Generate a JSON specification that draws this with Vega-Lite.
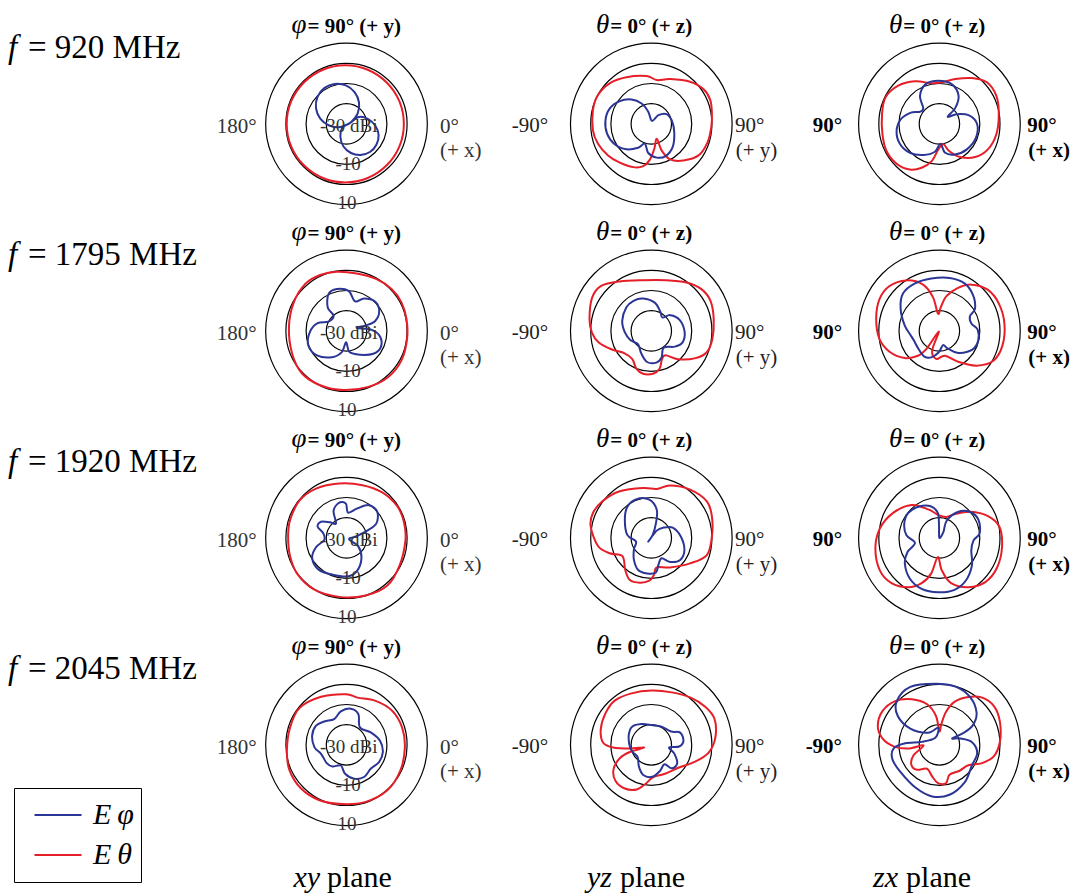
{
"$schema":"https://vega.github.io/schema/vega-lite/v6.json",
"background":"white",
"padding":0,
"autosize":{"type":"pad"},
"config":{"view":{"stroke":null},"font":"Liberation Serif"},
"data":{"values":[
{"kind":"panel","plane":"xy","freq":920,"sym":"φ","head":"= 90° (+ y)","west":"180°","east":"0°","axis":"(+ x)","g0":"-30 dBi","g1":"-10","g2":"10","flab":"= 920 MHz"},
{"kind":"panel","plane":"xy","freq":1795,"sym":"φ","head":"= 90° (+ y)","west":"180°","east":"0°","axis":"(+ x)","g0":"-30 dBi","g1":"-10","g2":"10","flab":"= 1795 MHz"},
{"kind":"panel","plane":"xy","freq":1920,"sym":"φ","head":"= 90° (+ y)","west":"180°","east":"0°","axis":"(+ x)","g0":"-30 dBi","g1":"-10","g2":"10","flab":"= 1920 MHz"},
{"kind":"panel","plane":"xy","freq":2045,"sym":"φ","head":"= 90° (+ y)","west":"180°","east":"0°","axis":"(+ x)","g0":"-30 dBi","g1":"-10","g2":"10","flab":"= 2045 MHz"},
{"kind":"panel","plane":"yz","freq":920,"sym":"θ","head":"= 0° (+ z)","west":"-90°","east":"90°","axis":"(+ y)"},
{"kind":"panel","plane":"yz","freq":1795,"sym":"θ","head":"= 0° (+ z)","west":"-90°","east":"90°","axis":"(+ y)"},
{"kind":"panel","plane":"yz","freq":1920,"sym":"θ","head":"= 0° (+ z)","west":"-90°","east":"90°","axis":"(+ y)"},
{"kind":"panel","plane":"yz","freq":2045,"sym":"θ","head":"= 0° (+ z)","west":"-90°","east":"90°","axis":"(+ y)"},
{"kind":"panel","plane":"zx","freq":920,"sym":"θ","head":"= 0° (+ z)","west":"90°","east":"90°","axis":"(+ x)"},
{"kind":"panel","plane":"zx","freq":1795,"sym":"θ","head":"= 0° (+ z)","west":"90°","east":"90°","axis":"(+ x)"},
{"kind":"panel","plane":"zx","freq":1920,"sym":"θ","head":"= 0° (+ z)","west":"90°","east":"90°","axis":"(+ x)"},
{"kind":"panel","plane":"zx","freq":2045,"sym":"θ","head":"= 0° (+ z)","west":"-90°","east":"90°","axis":"(+ x)"},
{"kind":"caption","plane":"xy","freq":2045,"a":"xy","b":"plane"},
{"kind":"caption","plane":"yz","freq":2045,"a":"yz","b":"plane"},
{"kind":"caption","plane":"zx","freq":2045,"a":"zx","b":"plane"},
{"kind":"ring","plane":"xy","freq":920,"dbi":-20},{"kind":"ring","plane":"xy","freq":920,"dbi":-10},{"kind":"ring","plane":"xy","freq":920,"dbi":0},{"kind":"ring","plane":"xy","freq":920,"dbi":10},
{"kind":"ring","plane":"xy","freq":1795,"dbi":-20},{"kind":"ring","plane":"xy","freq":1795,"dbi":-10},{"kind":"ring","plane":"xy","freq":1795,"dbi":0},{"kind":"ring","plane":"xy","freq":1795,"dbi":10},
{"kind":"ring","plane":"xy","freq":1920,"dbi":-20},{"kind":"ring","plane":"xy","freq":1920,"dbi":-10},{"kind":"ring","plane":"xy","freq":1920,"dbi":0},{"kind":"ring","plane":"xy","freq":1920,"dbi":10},
{"kind":"ring","plane":"xy","freq":2045,"dbi":-20},{"kind":"ring","plane":"xy","freq":2045,"dbi":-10},{"kind":"ring","plane":"xy","freq":2045,"dbi":0},{"kind":"ring","plane":"xy","freq":2045,"dbi":10},
{"kind":"ring","plane":"yz","freq":920,"dbi":-20},{"kind":"ring","plane":"yz","freq":920,"dbi":-10},{"kind":"ring","plane":"yz","freq":920,"dbi":0},{"kind":"ring","plane":"yz","freq":920,"dbi":10},
{"kind":"ring","plane":"yz","freq":1795,"dbi":-20},{"kind":"ring","plane":"yz","freq":1795,"dbi":-10},{"kind":"ring","plane":"yz","freq":1795,"dbi":0},{"kind":"ring","plane":"yz","freq":1795,"dbi":10},
{"kind":"ring","plane":"yz","freq":1920,"dbi":-20},{"kind":"ring","plane":"yz","freq":1920,"dbi":-10},{"kind":"ring","plane":"yz","freq":1920,"dbi":0},{"kind":"ring","plane":"yz","freq":1920,"dbi":10},
{"kind":"ring","plane":"yz","freq":2045,"dbi":-20},{"kind":"ring","plane":"yz","freq":2045,"dbi":-10},{"kind":"ring","plane":"yz","freq":2045,"dbi":0},{"kind":"ring","plane":"yz","freq":2045,"dbi":10},
{"kind":"ring","plane":"zx","freq":920,"dbi":-20},{"kind":"ring","plane":"zx","freq":920,"dbi":-10},{"kind":"ring","plane":"zx","freq":920,"dbi":0},{"kind":"ring","plane":"zx","freq":920,"dbi":10},
{"kind":"ring","plane":"zx","freq":1795,"dbi":-20},{"kind":"ring","plane":"zx","freq":1795,"dbi":-10},{"kind":"ring","plane":"zx","freq":1795,"dbi":0},{"kind":"ring","plane":"zx","freq":1795,"dbi":10},
{"kind":"ring","plane":"zx","freq":1920,"dbi":-20},{"kind":"ring","plane":"zx","freq":1920,"dbi":-10},{"kind":"ring","plane":"zx","freq":1920,"dbi":0},{"kind":"ring","plane":"zx","freq":1920,"dbi":10},
{"kind":"ring","plane":"zx","freq":2045,"dbi":-20},{"kind":"ring","plane":"zx","freq":2045,"dbi":-10},{"kind":"ring","plane":"zx","freq":2045,"dbi":0},{"kind":"ring","plane":"zx","freq":2045,"dbi":10},

{"plane":"xy","freq":920,"comp":"Eθ","i":0,"u":28.4,"v":0},{"plane":"xy","freq":920,"comp":"Eθ","i":1,"u":26.2,"v":11.1},{"plane":"xy","freq":920,"comp":"Eθ","i":2,"u":19.9,"v":20.5},{"plane":"xy","freq":920,"comp":"Eθ","i":3,"u":10.5,"v":26.8},{"plane":"xy","freq":920,"comp":"Eθ","i":4,"u":-0.6,"v":29},{"plane":"xy","freq":920,"comp":"Eθ","i":5,"u":-11.7,"v":26.8},{"plane":"xy","freq":920,"comp":"Eθ","i":6,"u":-21.1,"v":20.5},{"plane":"xy","freq":920,"comp":"Eθ","i":7,"u":-27.4,"v":11.1},{"plane":"xy","freq":920,"comp":"Eθ","i":8,"u":-29.6,"v":0},{"plane":"xy","freq":920,"comp":"Eθ","i":9,"u":-27.4,"v":-11.1},{"plane":"xy","freq":920,"comp":"Eθ","i":10,"u":-21.1,"v":-20.5},{"plane":"xy","freq":920,"comp":"Eθ","i":11,"u":-11.7,"v":-26.8},{"plane":"xy","freq":920,"comp":"Eθ","i":12,"u":-0.6,"v":-29},{"plane":"xy","freq":920,"comp":"Eθ","i":13,"u":10.5,"v":-26.8},{"plane":"xy","freq":920,"comp":"Eθ","i":14,"u":19.9,"v":-20.5},{"plane":"xy","freq":920,"comp":"Eθ","i":15,"u":26.2,"v":-11.1},

{"plane":"xy","freq":920,"comp":"Eφ","i":0,"u":2.1,"v":0.7},{"plane":"xy","freq":920,"comp":"Eφ","i":1,"u":5.5,"v":5.1},{"plane":"xy","freq":920,"comp":"Eφ","i":2,"u":6.2,"v":10.6},{"plane":"xy","freq":920,"comp":"Eφ","i":3,"u":4.0,"v":15.7},{"plane":"xy","freq":920,"comp":"Eφ","i":4,"u":-0.3,"v":19.1},{"plane":"xy","freq":920,"comp":"Eφ","i":5,"u":-5.9,"v":19.8},{"plane":"xy","freq":920,"comp":"Eφ","i":6,"u":-11.0,"v":17.7},{"plane":"xy","freq":920,"comp":"Eφ","i":7,"u":-14.4,"v":13.3},{"plane":"xy","freq":920,"comp":"Eφ","i":8,"u":-15.1,"v":7.8},{"plane":"xy","freq":920,"comp":"Eφ","i":9,"u":-13.0,"v":2.6},{"plane":"xy","freq":920,"comp":"Eφ","i":10,"u":-8.6,"v":-0.8},{"plane":"xy","freq":920,"comp":"Eφ","i":11,"u":-3.1,"v":-1.5},{"plane":"xy","freq":920,"comp":"Eφ","i":12,"u":2.1,"v":0.7},{"plane":"xy","freq":920,"comp":"Eφ","i":13,"u":6.0,"v":3.4},{"plane":"xy","freq":920,"comp":"Eφ","i":14,"u":10.7,"v":2.4},{"plane":"xy","freq":920,"comp":"Eφ","i":15,"u":14.3,"v":-0.9},{"plane":"xy","freq":920,"comp":"Eφ","i":16,"u":15.9,"v":-5.5},{"plane":"xy","freq":920,"comp":"Eφ","i":17,"u":14.8,"v":-10.3},{"plane":"xy","freq":920,"comp":"Eφ","i":18,"u":11.6,"v":-13.9},{"plane":"xy","freq":920,"comp":"Eφ","i":19,"u":6.9,"v":-15.4},{"plane":"xy","freq":920,"comp":"Eφ","i":20,"u":2.2,"v":-14.4},{"plane":"xy","freq":920,"comp":"Eφ","i":21,"u":-1.5,"v":-11.2},{"plane":"xy","freq":920,"comp":"Eφ","i":22,"u":-3.0,"v":-6.5},{"plane":"xy","freq":920,"comp":"Eφ","i":23,"u":-2.0,"v":-1.8},

{"plane":"yz","freq":920,"comp":"Eθ","i":0,"u":29.2,"v":11.8},{"plane":"yz","freq":920,"comp":"Eθ","i":1,"u":30.0,"v":5.1},{"plane":"yz","freq":920,"comp":"Eθ","i":2,"u":29.7,"v":-1.5},{"plane":"yz","freq":920,"comp":"Eθ","i":3,"u":27.9,"v":-9.0},{"plane":"yz","freq":920,"comp":"Eθ","i":4,"u":23.4,"v":-15.6},{"plane":"yz","freq":920,"comp":"Eθ","i":5,"u":15.9,"v":-18.1},{"plane":"yz","freq":920,"comp":"Eθ","i":6,"u":9.3,"v":-17.6},{"plane":"yz","freq":920,"comp":"Eθ","i":7,"u":5.1,"v":-13.1},{"plane":"yz","freq":920,"comp":"Eθ","i":8,"u":2.7,"v":-7.3},{"plane":"yz","freq":920,"comp":"Eθ","i":9,"u":1.5,"v":-12.3},{"plane":"yz","freq":920,"comp":"Eθ","i":10,"u":-0.7,"v":-17.7},{"plane":"yz","freq":920,"comp":"Eθ","i":11,"u":-4.0,"v":-20.9},{"plane":"yz","freq":920,"comp":"Eθ","i":12,"u":-9.0,"v":-21.4},{"plane":"yz","freq":920,"comp":"Eθ","i":13,"u":-15.6,"v":-19.2},{"plane":"yz","freq":920,"comp":"Eθ","i":14,"u":-21.4,"v":-15.6},{"plane":"yz","freq":920,"comp":"Eθ","i":15,"u":-26.4,"v":-9.8},{"plane":"yz","freq":920,"comp":"Eθ","i":16,"u":-28.9,"v":-3.2},{"plane":"yz","freq":920,"comp":"Eθ","i":17,"u":-28.9,"v":6.8},{"plane":"yz","freq":920,"comp":"Eθ","i":18,"u":-26.4,"v":14.3},{"plane":"yz","freq":920,"comp":"Eθ","i":19,"u":-20.6,"v":20.1},{"plane":"yz","freq":920,"comp":"Eθ","i":20,"u":-12.3,"v":23.1},{"plane":"yz","freq":920,"comp":"Eθ","i":21,"u":-2.3,"v":23.7},{"plane":"yz","freq":920,"comp":"Eθ","i":22,"u":2.7,"v":21.7},{"plane":"yz","freq":920,"comp":"Eθ","i":23,"u":9.3,"v":22.2},{"plane":"yz","freq":920,"comp":"Eθ","i":24,"u":19.2,"v":20.9},{"plane":"yz","freq":920,"comp":"Eθ","i":25,"u":25.9,"v":17.1},

{"plane":"yz","freq":920,"comp":"Eφ","i":0,"u":0.3,"v":1.5},{"plane":"yz","freq":920,"comp":"Eφ","i":1,"u":3.5,"v":4.3},{"plane":"yz","freq":920,"comp":"Eφ","i":2,"u":7.6,"v":4.8},{"plane":"yz","freq":920,"comp":"Eφ","i":3,"u":10.4,"v":1.0},{"plane":"yz","freq":920,"comp":"Eφ","i":4,"u":11.4,"v":-4.8},{"plane":"yz","freq":920,"comp":"Eφ","i":5,"u":10.6,"v":-11.4},{"plane":"yz","freq":920,"comp":"Eφ","i":6,"u":7.3,"v":-15.8},{"plane":"yz","freq":920,"comp":"Eφ","i":7,"u":2.7,"v":-16.7},{"plane":"yz","freq":920,"comp":"Eφ","i":8,"u":-1.5,"v":-14.4},{"plane":"yz","freq":920,"comp":"Eφ","i":9,"u":-3.2,"v":-9.8},{"plane":"yz","freq":920,"comp":"Eφ","i":10,"u":-6.5,"v":-11.8},{"plane":"yz","freq":920,"comp":"Eφ","i":11,"u":-12.3,"v":-12.6},{"plane":"yz","freq":920,"comp":"Eφ","i":12,"u":-18.1,"v":-10.1},{"plane":"yz","freq":920,"comp":"Eφ","i":13,"u":-21.9,"v":-4.8},{"plane":"yz","freq":920,"comp":"Eφ","i":14,"u":-22.7,"v":1.8},{"plane":"yz","freq":920,"comp":"Eφ","i":15,"u":-20.6,"v":7.6},{"plane":"yz","freq":920,"comp":"Eφ","i":16,"u":-15.6,"v":11.3},{"plane":"yz","freq":920,"comp":"Eφ","i":17,"u":-9.8,"v":12.1},{"plane":"yz","freq":920,"comp":"Eφ","i":18,"u":-4.8,"v":10.1},{"plane":"yz","freq":920,"comp":"Eφ","i":19,"u":-1.5,"v":6.0},

{"plane":"zx","freq":920,"comp":"Eθ","i":0,"u":-28.4,"v":4.8},{"plane":"zx","freq":920,"comp":"Eθ","i":1,"u":-26.7,"v":13.1},{"plane":"zx","freq":920,"comp":"Eθ","i":2,"u":-20.4,"v":18.9},{"plane":"zx","freq":920,"comp":"Eθ","i":3,"u":-12.1,"v":21.1},{"plane":"zx","freq":920,"comp":"Eθ","i":4,"u":-3.8,"v":20.1},{"plane":"zx","freq":920,"comp":"Eθ","i":5,"u":1.2,"v":20.6},{"plane":"zx","freq":920,"comp":"Eθ","i":6,"u":7.8,"v":22.2},{"plane":"zx","freq":920,"comp":"Eθ","i":7,"u":16.1,"v":22.7},{"plane":"zx","freq":920,"comp":"Eθ","i":8,"u":23.5,"v":20.6},{"plane":"zx","freq":920,"comp":"Eθ","i":9,"u":28.2,"v":13.9},{"plane":"zx","freq":920,"comp":"Eθ","i":10,"u":29.4,"v":4.8},{"plane":"zx","freq":920,"comp":"Eθ","i":11,"u":28.2,"v":-5.1},{"plane":"zx","freq":920,"comp":"Eθ","i":12,"u":24.0,"v":-12.6},{"plane":"zx","freq":920,"comp":"Eθ","i":13,"u":17.7,"v":-16.4},{"plane":"zx","freq":920,"comp":"Eθ","i":14,"u":10.3,"v":-16.4},{"plane":"zx","freq":920,"comp":"Eθ","i":15,"u":4.8,"v":-13.4},{"plane":"zx","freq":920,"comp":"Eθ","i":16,"u":2.0,"v":-10.1},{"plane":"zx","freq":920,"comp":"Eθ","i":17,"u":-0.5,"v":-12.6},{"plane":"zx","freq":920,"comp":"Eθ","i":18,"u":-3.8,"v":-18.4},{"plane":"zx","freq":920,"comp":"Eθ","i":19,"u":-8.8,"v":-21.7},{"plane":"zx","freq":920,"comp":"Eθ","i":20,"u":-14.6,"v":-22.6},{"plane":"zx","freq":920,"comp":"Eθ","i":21,"u":-21.2,"v":-19.7},{"plane":"zx","freq":920,"comp":"Eθ","i":22,"u":-26.2,"v":-13.4},{"plane":"zx","freq":920,"comp":"Eθ","i":23,"u":-28.2,"v":-5.1},

{"plane":"zx","freq":920,"comp":"Eφ","i":0,"u":-8.0,"v":7.8},{"plane":"zx","freq":920,"comp":"Eφ","i":1,"u":-9.6,"v":13.9},{"plane":"zx","freq":920,"comp":"Eφ","i":2,"u":-6.8,"v":19.7},{"plane":"zx","freq":920,"comp":"Eφ","i":3,"u":-0.5,"v":21.4},{"plane":"zx","freq":920,"comp":"Eφ","i":4,"u":6.1,"v":19.7},{"plane":"zx","freq":920,"comp":"Eφ","i":5,"u":9.5,"v":13.9},{"plane":"zx","freq":920,"comp":"Eφ","i":6,"u":7.8,"v":7.8},{"plane":"zx","freq":920,"comp":"Eφ","i":7,"u":4.1,"v":3.5},{"plane":"zx","freq":920,"comp":"Eφ","i":8,"u":8.6,"v":4.8},{"plane":"zx","freq":920,"comp":"Eφ","i":9,"u":14.4,"v":4.3},{"plane":"zx","freq":920,"comp":"Eφ","i":10,"u":18.6,"v":0.2},{"plane":"zx","freq":920,"comp":"Eφ","i":11,"u":18.1,"v":-6.8},{"plane":"zx","freq":920,"comp":"Eφ","i":12,"u":13.6,"v":-12.6},{"plane":"zx","freq":920,"comp":"Eφ","i":13,"u":7.8,"v":-15.1},{"plane":"zx","freq":920,"comp":"Eφ","i":14,"u":2.8,"v":-14.3},{"plane":"zx","freq":920,"comp":"Eφ","i":15,"u":0.5,"v":-9.8},{"plane":"zx","freq":920,"comp":"Eφ","i":16,"u":-2.2,"v":-13.8},{"plane":"zx","freq":920,"comp":"Eφ","i":17,"u":-8.0,"v":-15.4},{"plane":"zx","freq":920,"comp":"Eφ","i":18,"u":-14.6,"v":-14.3},{"plane":"zx","freq":920,"comp":"Eφ","i":19,"u":-19.6,"v":-9.8},{"plane":"zx","freq":920,"comp":"Eφ","i":20,"u":-21.2,"v":-3.5},{"plane":"zx","freq":920,"comp":"Eφ","i":21,"u":-19.1,"v":2.3},{"plane":"zx","freq":920,"comp":"Eφ","i":22,"u":-14.1,"v":5.6},{"plane":"zx","freq":920,"comp":"Eφ","i":23,"u":-9.6,"v":6.0},

{"plane":"xy","freq":1795,"comp":"Eθ","i":0,"u":-28.5,"v":1.8},{"plane":"xy","freq":1795,"comp":"Eθ","i":1,"u":-26.1,"v":14.1},{"plane":"xy","freq":1795,"comp":"Eθ","i":2,"u":-20.3,"v":23.4},{"plane":"xy","freq":1795,"comp":"Eθ","i":3,"u":-13.0,"v":27.7},{"plane":"xy","freq":1795,"comp":"Eθ","i":4,"u":-4.8,"v":29.3},{"plane":"xy","freq":1795,"comp":"Eθ","i":5,"u":5.1,"v":28.4},{"plane":"xy","freq":1795,"comp":"Eθ","i":6,"u":14.9,"v":25.6},{"plane":"xy","freq":1795,"comp":"Eθ","i":7,"u":22.3,"v":20.7},{"plane":"xy","freq":1795,"comp":"Eθ","i":8,"u":27.2,"v":14.1},{"plane":"xy","freq":1795,"comp":"Eθ","i":9,"u":29.7,"v":5.9},{"plane":"xy","freq":1795,"comp":"Eθ","i":10,"u":30.0,"v":-3.9},{"plane":"xy","freq":1795,"comp":"Eθ","i":11,"u":27.2,"v":-14.6},{"plane":"xy","freq":1795,"comp":"Eθ","i":12,"u":20.7,"v":-22.8},{"plane":"xy","freq":1795,"comp":"Eθ","i":13,"u":10.8,"v":-27.7},{"plane":"xy","freq":1795,"comp":"Eθ","i":14,"u":-1.5,"v":-29.3},{"plane":"xy","freq":1795,"comp":"Eθ","i":15,"u":-13.0,"v":-26.9},{"plane":"xy","freq":1795,"comp":"Eθ","i":16,"u":-22.0,"v":-21.1},{"plane":"xy","freq":1795,"comp":"Eθ","i":17,"u":-26.9,"v":-11.3},

{"plane":"xy","freq":1795,"comp":"Eφ","i":0,"u":-9.3,"v":11.6},{"plane":"xy","freq":1795,"comp":"Eφ","i":1,"u":-8.9,"v":18.2},{"plane":"xy","freq":1795,"comp":"Eφ","i":2,"u":-4.8,"v":20.7},{"plane":"xy","freq":1795,"comp":"Eφ","i":3,"u":1.0,"v":19.8},{"plane":"xy","freq":1795,"comp":"Eφ","i":4,"u":4.3,"v":14.6},{"plane":"xy","freq":1795,"comp":"Eφ","i":5,"u":8.7,"v":16.1},{"plane":"xy","freq":1795,"comp":"Eφ","i":6,"u":14.1,"v":14.6},{"plane":"xy","freq":1795,"comp":"Eφ","i":7,"u":16.2,"v":9.7},{"plane":"xy","freq":1795,"comp":"Eφ","i":8,"u":14.1,"v":4.8},{"plane":"xy","freq":1795,"comp":"Eφ","i":9,"u":9.2,"v":2.6},{"plane":"xy","freq":1795,"comp":"Eφ","i":10,"u":5.1,"v":1.5},{"plane":"xy","freq":1795,"comp":"Eφ","i":11,"u":12.5,"v":0.5},{"plane":"xy","freq":1795,"comp":"Eφ","i":12,"u":16.6,"v":-2.8},{"plane":"xy","freq":1795,"comp":"Eφ","i":13,"u":17.0,"v":-8.0},{"plane":"xy","freq":1795,"comp":"Eφ","i":14,"u":13.3,"v":-11.3},{"plane":"xy","freq":1795,"comp":"Eφ","i":15,"u":6.7,"v":-11.8},{"plane":"xy","freq":1795,"comp":"Eφ","i":16,"u":1.5,"v":-10.5},{"plane":"xy","freq":1795,"comp":"Eφ","i":17,"u":-0.2,"v":-5.6},{"plane":"xy","freq":1795,"comp":"Eφ","i":18,"u":-2.3,"v":-10.5},{"plane":"xy","freq":1795,"comp":"Eφ","i":19,"u":-7.2,"v":-13.0},{"plane":"xy","freq":1795,"comp":"Eφ","i":20,"u":-14.6,"v":-12.1},{"plane":"xy","freq":1795,"comp":"Eφ","i":21,"u":-18.9,"v":-7.2},{"plane":"xy","freq":1795,"comp":"Eφ","i":22,"u":-18.2,"v":-0.7},{"plane":"xy","freq":1795,"comp":"Eφ","i":23,"u":-14.3,"v":3.8},{"plane":"xy","freq":1795,"comp":"Eφ","i":24,"u":-8.9,"v":4.6},{"plane":"xy","freq":1795,"comp":"Eφ","i":25,"u":-6.4,"v":7.5},

{"plane":"yz","freq":1795,"comp":"Eθ","i":0,"u":-30.6,"v":5.8},{"plane":"yz","freq":1795,"comp":"Eθ","i":1,"u":-29.3,"v":16.5},{"plane":"yz","freq":1795,"comp":"Eθ","i":2,"u":-24.8,"v":22.3},{"plane":"yz","freq":1795,"comp":"Eθ","i":3,"u":-15.7,"v":24.5},{"plane":"yz","freq":1795,"comp":"Eθ","i":4,"u":-4.1,"v":25.1},{"plane":"yz","freq":1795,"comp":"Eθ","i":5,"u":7.4,"v":25.1},{"plane":"yz","freq":1795,"comp":"Eθ","i":6,"u":17.4,"v":24.0},{"plane":"yz","freq":1795,"comp":"Eθ","i":7,"u":24.8,"v":20.7},{"plane":"yz","freq":1795,"comp":"Eθ","i":8,"u":29.3,"v":14.9},{"plane":"yz","freq":1795,"comp":"Eθ","i":9,"u":30.9,"v":5.8},{"plane":"yz","freq":1795,"comp":"Eθ","i":10,"u":30.2,"v":-4.1},{"plane":"yz","freq":1795,"comp":"Eθ","i":11,"u":27.3,"v":-10.7},{"plane":"yz","freq":1795,"comp":"Eθ","i":12,"u":21.5,"v":-13.6},{"plane":"yz","freq":1795,"comp":"Eθ","i":13,"u":13.2,"v":-14.0},{"plane":"yz","freq":1795,"comp":"Eθ","i":14,"u":7.1,"v":-12.1},{"plane":"yz","freq":1795,"comp":"Eθ","i":15,"u":5.3,"v":-14.0},{"plane":"yz","freq":1795,"comp":"Eθ","i":16,"u":4.1,"v":-18.7},{"plane":"yz","freq":1795,"comp":"Eθ","i":17,"u":0.8,"v":-21.2},{"plane":"yz","freq":1795,"comp":"Eθ","i":18,"u":-4.1,"v":-21.2},{"plane":"yz","freq":1795,"comp":"Eθ","i":19,"u":-7.4,"v":-18.7},{"plane":"yz","freq":1795,"comp":"Eθ","i":20,"u":-9.4,"v":-14.0},{"plane":"yz","freq":1795,"comp":"Eθ","i":21,"u":-13.2,"v":-11.1},{"plane":"yz","freq":1795,"comp":"Eθ","i":22,"u":-19.8,"v":-9.1},{"plane":"yz","freq":1795,"comp":"Eθ","i":23,"u":-26.0,"v":-5.8},{"plane":"yz","freq":1795,"comp":"Eθ","i":24,"u":-29.4,"v":-0.8},

{"plane":"yz","freq":1795,"comp":"Eφ","i":0,"u":-14.4,"v":5.0},{"plane":"yz","freq":1795,"comp":"Eφ","i":1,"u":-12.4,"v":11.6},{"plane":"yz","freq":1795,"comp":"Eφ","i":2,"u":-8.8,"v":14.9},{"plane":"yz","freq":1795,"comp":"Eφ","i":3,"u":-4.1,"v":16.0},{"plane":"yz","freq":1795,"comp":"Eφ","i":4,"u":1.7,"v":14.0},{"plane":"yz","freq":1795,"comp":"Eφ","i":5,"u":4.5,"v":9.4},{"plane":"yz","freq":1795,"comp":"Eφ","i":6,"u":5.5,"v":6.6},{"plane":"yz","freq":1795,"comp":"Eφ","i":7,"u":9.4,"v":7.8},{"plane":"yz","freq":1795,"comp":"Eφ","i":8,"u":14.0,"v":5.5},{"plane":"yz","freq":1795,"comp":"Eφ","i":9,"u":16.5,"v":-0.5},{"plane":"yz","freq":1795,"comp":"Eφ","i":10,"u":15.4,"v":-5.8},{"plane":"yz","freq":1795,"comp":"Eφ","i":11,"u":11.6,"v":-7.8},{"plane":"yz","freq":1795,"comp":"Eφ","i":12,"u":6.1,"v":-8.3},{"plane":"yz","freq":1795,"comp":"Eφ","i":13,"u":5.1,"v":-13.2},{"plane":"yz","freq":1795,"comp":"Eφ","i":14,"u":2.5,"v":-15.7},{"plane":"yz","freq":1795,"comp":"Eφ","i":15,"u":-2.1,"v":-15.4},{"plane":"yz","freq":1795,"comp":"Eφ","i":16,"u":-5.0,"v":-11.1},{"plane":"yz","freq":1795,"comp":"Eφ","i":17,"u":-6.6,"v":-6.6},{"plane":"yz","freq":1795,"comp":"Eφ","i":18,"u":-10.4,"v":-4.5},{"plane":"yz","freq":1795,"comp":"Eφ","i":19,"u":-13.2,"v":-0.5},

{"plane":"zx","freq":1795,"comp":"Eθ","i":0,"u":-0.7,"v":8.5},{"plane":"zx","freq":1795,"comp":"Eθ","i":1,"u":-3.2,"v":16.7},{"plane":"zx","freq":1795,"comp":"Eθ","i":2,"u":-8.1,"v":22.9},{"plane":"zx","freq":1795,"comp":"Eθ","i":3,"u":-16.4,"v":25.0},{"plane":"zx","freq":1795,"comp":"Eθ","i":4,"u":-24.7,"v":22.2},{"plane":"zx","freq":1795,"comp":"Eθ","i":5,"u":-29.7,"v":15.6},{"plane":"zx","freq":1795,"comp":"Eθ","i":6,"u":-31.3,"v":6.0},{"plane":"zx","freq":1795,"comp":"Eθ","i":7,"u":-29.7,"v":-4.0},{"plane":"zx","freq":1795,"comp":"Eθ","i":8,"u":-24.7,"v":-10.3},{"plane":"zx","freq":1795,"comp":"Eθ","i":9,"u":-17.2,"v":-13.4},{"plane":"zx","freq":1795,"comp":"Eθ","i":10,"u":-10.6,"v":-12.3},{"plane":"zx","freq":1795,"comp":"Eθ","i":11,"u":-6.5,"v":-9.0},{"plane":"zx","freq":1795,"comp":"Eθ","i":12,"u":-0.3,"v":-0.3},{"plane":"zx","freq":1795,"comp":"Eθ","i":13,"u":-3.6,"v":-9.8},{"plane":"zx","freq":1795,"comp":"Eθ","i":14,"u":-1.5,"v":-13.9},{"plane":"zx","freq":1795,"comp":"Eθ","i":15,"u":2.7,"v":-12.3},{"plane":"zx","freq":1795,"comp":"Eθ","i":16,"u":9.3,"v":-15.3},{"plane":"zx","freq":1795,"comp":"Eθ","i":17,"u":18.4,"v":-17.2},{"plane":"zx","freq":1795,"comp":"Eθ","i":18,"u":26.7,"v":-14.8},{"plane":"zx","freq":1795,"comp":"Eθ","i":19,"u":31.2,"v":-7.3},{"plane":"zx","freq":1795,"comp":"Eθ","i":20,"u":32.2,"v":3.5},{"plane":"zx","freq":1795,"comp":"Eθ","i":21,"u":29.5,"v":13.4},{"plane":"zx","freq":1795,"comp":"Eθ","i":22,"u":23.9,"v":20.4},{"plane":"zx","freq":1795,"comp":"Eθ","i":23,"u":15.9,"v":22.9},{"plane":"zx","freq":1795,"comp":"Eθ","i":24,"u":9.0,"v":21.2},{"plane":"zx","freq":1795,"comp":"Eθ","i":25,"u":3.5,"v":17.2},{"plane":"zx","freq":1795,"comp":"Eθ","i":26,"u":0.7,"v":11.8},

{"plane":"zx","freq":1795,"comp":"Eφ","i":0,"u":-18.1,"v":18.4},{"plane":"zx","freq":1795,"comp":"Eφ","i":1,"u":-12.3,"v":23.4},{"plane":"zx","freq":1795,"comp":"Eφ","i":2,"u":-4.0,"v":25.9},{"plane":"zx","freq":1795,"comp":"Eφ","i":3,"u":5.1,"v":26.2},{"plane":"zx","freq":1795,"comp":"Eφ","i":4,"u":12.6,"v":23.4},{"plane":"zx","freq":1795,"comp":"Eφ","i":5,"u":16.7,"v":17.6},{"plane":"zx","freq":1795,"comp":"Eφ","i":6,"u":17.6,"v":10.9},{"plane":"zx","freq":1795,"comp":"Eφ","i":7,"u":15.1,"v":7.3},{"plane":"zx","freq":1795,"comp":"Eφ","i":8,"u":15.9,"v":3.5},{"plane":"zx","freq":1795,"comp":"Eφ","i":9,"u":18.9,"v":0.7},{"plane":"zx","freq":1795,"comp":"Eφ","i":10,"u":19.2,"v":-4.8},{"plane":"zx","freq":1795,"comp":"Eφ","i":11,"u":16.3,"v":-9.3},{"plane":"zx","freq":1795,"comp":"Eφ","i":12,"u":9.3,"v":-10.9},{"plane":"zx","freq":1795,"comp":"Eφ","i":13,"u":4.0,"v":-8.6},{"plane":"zx","freq":1795,"comp":"Eφ","i":14,"u":1.8,"v":-7.0},{"plane":"zx","freq":1795,"comp":"Eφ","i":15,"u":-0.3,"v":-10.6},{"plane":"zx","freq":1795,"comp":"Eφ","i":16,"u":-4.0,"v":-13.1},{"plane":"zx","freq":1795,"comp":"Eφ","i":17,"u":-7.6,"v":-12.6},{"plane":"zx","freq":1795,"comp":"Eφ","i":18,"u":-10.3,"v":-9.0},{"plane":"zx","freq":1795,"comp":"Eφ","i":19,"u":-12.6,"v":-4.8},{"plane":"zx","freq":1795,"comp":"Eφ","i":20,"u":-14.3,"v":-2.0},{"plane":"zx","freq":1795,"comp":"Eφ","i":21,"u":-17.2,"v":2.7},{"plane":"zx","freq":1795,"comp":"Eφ","i":22,"u":-19.2,"v":10.9},

{"plane":"xy","freq":1920,"comp":"Eθ","i":0,"u":-28.9,"v":0.7},{"plane":"xy","freq":1920,"comp":"Eθ","i":1,"u":-27.9,"v":8.9},{"plane":"xy","freq":1920,"comp":"Eθ","i":2,"u":-23.3,"v":18.4},{"plane":"xy","freq":1920,"comp":"Eθ","i":3,"u":-15.1,"v":24.4},{"plane":"xy","freq":1920,"comp":"Eθ","i":4,"u":-3.6,"v":26.9},{"plane":"xy","freq":1920,"comp":"Eθ","i":5,"u":7.9,"v":26.1},{"plane":"xy","freq":1920,"comp":"Eθ","i":6,"u":17.7,"v":22.5},{"plane":"xy","freq":1920,"comp":"Eθ","i":7,"u":25.1,"v":15.7},{"plane":"xy","freq":1920,"comp":"Eθ","i":8,"u":28.4,"v":8.0},{"plane":"xy","freq":1920,"comp":"Eθ","i":9,"u":29.2,"v":-1.0},{"plane":"xy","freq":1920,"comp":"Eθ","i":10,"u":26.4,"v":-13.3},{"plane":"xy","freq":1920,"comp":"Eθ","i":11,"u":20.2,"v":-23.6},{"plane":"xy","freq":1920,"comp":"Eθ","i":12,"u":9.5,"v":-28.5},{"plane":"xy","freq":1920,"comp":"Eθ","i":13,"u":-3.6,"v":-29.2},{"plane":"xy","freq":1920,"comp":"Eθ","i":14,"u":-15.9,"v":-25.6},{"plane":"xy","freq":1920,"comp":"Eθ","i":15,"u":-24.1,"v":-18.2},{"plane":"xy","freq":1920,"comp":"Eθ","i":16,"u":-27.9,"v":-9.2},

{"plane":"xy","freq":1920,"comp":"Eφ","i":0,"u":-5.2,"v":7.2},{"plane":"xy","freq":1920,"comp":"Eφ","i":1,"u":-6.4,"v":13.4},{"plane":"xy","freq":1920,"comp":"Eφ","i":2,"u":-3.6,"v":17.5},{"plane":"xy","freq":1920,"comp":"Eφ","i":3,"u":-0.3,"v":17.0},{"plane":"xy","freq":1920,"comp":"Eφ","i":4,"u":0.8,"v":12.5},{"plane":"xy","freq":1920,"comp":"Eφ","i":5,"u":5.4,"v":14.6},{"plane":"xy","freq":1920,"comp":"Eφ","i":6,"u":11.1,"v":16.2},{"plane":"xy","freq":1920,"comp":"Eφ","i":7,"u":15.2,"v":13.0},{"plane":"xy","freq":1920,"comp":"Eφ","i":8,"u":14.8,"v":7.2},{"plane":"xy","freq":1920,"comp":"Eφ","i":9,"u":10.3,"v":3.6},{"plane":"xy","freq":1920,"comp":"Eφ","i":10,"u":4.6,"v":0.7},{"plane":"xy","freq":1920,"comp":"Eφ","i":11,"u":1.3,"v":-0.7},{"plane":"xy","freq":1920,"comp":"Eφ","i":12,"u":5.9,"v":-4.3},{"plane":"xy","freq":1920,"comp":"Eφ","i":13,"u":7.4,"v":-10.0},{"plane":"xy","freq":1920,"comp":"Eφ","i":14,"u":5.4,"v":-16.1},{"plane":"xy","freq":1920,"comp":"Eφ","i":15,"u":1.0,"v":-19.0},{"plane":"xy","freq":1920,"comp":"Eφ","i":16,"u":-6.9,"v":-18.2},{"plane":"xy","freq":1920,"comp":"Eφ","i":17,"u":-13.8,"v":-15.7},{"plane":"xy","freq":1920,"comp":"Eφ","i":18,"u":-17.0,"v":-10.0},{"plane":"xy","freq":1920,"comp":"Eφ","i":19,"u":-15.1,"v":-4.6},{"plane":"xy","freq":1920,"comp":"Eφ","i":20,"u":-11.0,"v":-1.0},{"plane":"xy","freq":1920,"comp":"Eφ","i":21,"u":-11.5,"v":2.3},{"plane":"xy","freq":1920,"comp":"Eφ","i":22,"u":-14.3,"v":5.6},{"plane":"xy","freq":1920,"comp":"Eφ","i":23,"u":-12.6,"v":8.0},{"plane":"xy","freq":1920,"comp":"Eφ","i":24,"u":-8.2,"v":7.7},

{"plane":"yz","freq":1920,"comp":"Eθ","i":0,"u":-30.0,"v":5.6},{"plane":"yz","freq":1920,"comp":"Eθ","i":1,"u":-28.9,"v":12.3},{"plane":"yz","freq":1920,"comp":"Eθ","i":2,"u":-23.9,"v":18.4},{"plane":"yz","freq":1920,"comp":"Eθ","i":3,"u":-15.6,"v":23.1},{"plane":"yz","freq":1920,"comp":"Eθ","i":4,"u":-4.0,"v":24.7},{"plane":"yz","freq":1920,"comp":"Eθ","i":5,"u":2.7,"v":24.2},{"plane":"yz","freq":1920,"comp":"Eθ","i":6,"u":9.3,"v":25.9},{"plane":"yz","freq":1920,"comp":"Eθ","i":7,"u":19.2,"v":23.9},{"plane":"yz","freq":1920,"comp":"Eθ","i":8,"u":27.5,"v":18.1},{"plane":"yz","freq":1920,"comp":"Eθ","i":9,"u":30.0,"v":10.6},{"plane":"yz","freq":1920,"comp":"Eθ","i":10,"u":30.0,"v":0.7},{"plane":"yz","freq":1920,"comp":"Eθ","i":11,"u":27.5,"v":-8.5},{"plane":"yz","freq":1920,"comp":"Eθ","i":12,"u":19.2,"v":-12.6},{"plane":"yz","freq":1920,"comp":"Eθ","i":13,"u":9.3,"v":-14.6},{"plane":"yz","freq":1920,"comp":"Eθ","i":14,"u":2.7,"v":-14.6},{"plane":"yz","freq":1920,"comp":"Eθ","i":15,"u":1.3,"v":-18.4},{"plane":"yz","freq":1920,"comp":"Eθ","i":16,"u":-1.0,"v":-21.2},{"plane":"yz","freq":1920,"comp":"Eθ","i":17,"u":-5.6,"v":-22.2},{"plane":"yz","freq":1920,"comp":"Eθ","i":18,"u":-10.6,"v":-20.9},{"plane":"yz","freq":1920,"comp":"Eθ","i":19,"u":-12.9,"v":-15.9},{"plane":"yz","freq":1920,"comp":"Eθ","i":20,"u":-14.3,"v":-9.0},{"plane":"yz","freq":1920,"comp":"Eθ","i":21,"u":-20.6,"v":-7.6},{"plane":"yz","freq":1920,"comp":"Eθ","i":22,"u":-26.4,"v":-4.0},

{"plane":"yz","freq":1920,"comp":"Eφ","i":0,"u":-13.1,"v":9.0},{"plane":"yz","freq":1920,"comp":"Eφ","i":1,"u":-11.9,"v":15.3},{"plane":"yz","freq":1920,"comp":"Eφ","i":2,"u":-7.3,"v":19.2},{"plane":"yz","freq":1920,"comp":"Eφ","i":3,"u":-1.0,"v":18.9},{"plane":"yz","freq":1920,"comp":"Eφ","i":4,"u":2.7,"v":13.9},{"plane":"yz","freq":1920,"comp":"Eφ","i":5,"u":2.3,"v":7.3},{"plane":"yz","freq":1920,"comp":"Eφ","i":6,"u":0.7,"v":1.5},{"plane":"yz","freq":1920,"comp":"Eφ","i":7,"u":-1.5,"v":-1.8},{"plane":"yz","freq":1920,"comp":"Eφ","i":8,"u":2.7,"v":3.6},{"plane":"yz","freq":1920,"comp":"Eφ","i":9,"u":6.0,"v":5.1},{"plane":"yz","freq":1920,"comp":"Eφ","i":10,"u":10.6,"v":5.1},{"plane":"yz","freq":1920,"comp":"Eφ","i":11,"u":14.6,"v":0.7},{"plane":"yz","freq":1920,"comp":"Eφ","i":12,"u":16.4,"v":-6.0},{"plane":"yz","freq":1920,"comp":"Eφ","i":13,"u":14.3,"v":-10.9},{"plane":"yz","freq":1920,"comp":"Eφ","i":14,"u":9.3,"v":-11.9},{"plane":"yz","freq":1920,"comp":"Eφ","i":15,"u":5.1,"v":-10.1},{"plane":"yz","freq":1920,"comp":"Eφ","i":16,"u":3.5,"v":-13.4},{"plane":"yz","freq":1920,"comp":"Eφ","i":17,"u":2.3,"v":-17.1},{"plane":"yz","freq":1920,"comp":"Eφ","i":18,"u":-2.0,"v":-17.6},{"plane":"yz","freq":1920,"comp":"Eφ","i":19,"u":-6.5,"v":-15.9},{"plane":"yz","freq":1920,"comp":"Eφ","i":20,"u":-8.6,"v":-10.9},{"plane":"yz","freq":1920,"comp":"Eφ","i":21,"u":-8.6,"v":-5.6},{"plane":"yz","freq":1920,"comp":"Eφ","i":22,"u":-7.6,"v":-1.8},{"plane":"yz","freq":1920,"comp":"Eφ","i":23,"u":-11.9,"v":1.5},

{"plane":"zx","freq":1920,"comp":"Eθ","i":0,"u":-0.5,"v":11.3},{"plane":"zx","freq":1920,"comp":"Eθ","i":1,"u":-5.5,"v":14.1},{"plane":"zx","freq":1920,"comp":"Eθ","i":2,"u":-13.8,"v":16.3},{"plane":"zx","freq":1920,"comp":"Eθ","i":3,"u":-22.9,"v":12.4},{"plane":"zx","freq":1920,"comp":"Eθ","i":4,"u":-29.5,"v":4.6},{"plane":"zx","freq":1920,"comp":"Eθ","i":5,"u":-31.7,"v":-5.3},{"plane":"zx","freq":1920,"comp":"Eθ","i":6,"u":-29.5,"v":-16.1},{"plane":"zx","freq":1920,"comp":"Eθ","i":7,"u":-23.7,"v":-22.4},{"plane":"zx","freq":1920,"comp":"Eθ","i":8,"u":-15.4,"v":-24.4},{"plane":"zx","freq":1920,"comp":"Eθ","i":9,"u":-8.8,"v":-22.4},{"plane":"zx","freq":1920,"comp":"Eθ","i":10,"u":-4.1,"v":-17.7},{"plane":"zx","freq":1920,"comp":"Eθ","i":11,"u":-0.8,"v":-9.5},{"plane":"zx","freq":1920,"comp":"Eθ","i":12,"u":1.2,"v":-16.1},{"plane":"zx","freq":1920,"comp":"Eθ","i":13,"u":5.8,"v":-22.4},{"plane":"zx","freq":1920,"comp":"Eθ","i":14,"u":14.4,"v":-24.4},{"plane":"zx","freq":1920,"comp":"Eθ","i":15,"u":22.7,"v":-21.9},{"plane":"zx","freq":1920,"comp":"Eθ","i":16,"u":28.5,"v":-14.8},{"plane":"zx","freq":1920,"comp":"Eθ","i":17,"u":31.0,"v":-4.5},{"plane":"zx","freq":1920,"comp":"Eθ","i":18,"u":29.7,"v":5.5},{"plane":"zx","freq":1920,"comp":"Eθ","i":19,"u":24.0,"v":10.8},{"plane":"zx","freq":1920,"comp":"Eθ","i":20,"u":15.3,"v":12.9},{"plane":"zx","freq":1920,"comp":"Eθ","i":21,"u":7.8,"v":11.8},{"plane":"zx","freq":1920,"comp":"Eθ","i":22,"u":3.6,"v":10.4},

{"plane":"zx","freq":1920,"comp":"Eφ","i":0,"u":0,"v":0},{"plane":"zx","freq":1920,"comp":"Eφ","i":1,"u":2.0,"v":3.0},{"plane":"zx","freq":1920,"comp":"Eφ","i":2,"u":3.6,"v":8.5},{"plane":"zx","freq":1920,"comp":"Eφ","i":3,"u":9.1,"v":12.8},{"plane":"zx","freq":1920,"comp":"Eφ","i":4,"u":15.3,"v":12.8},{"plane":"zx","freq":1920,"comp":"Eφ","i":5,"u":19.4,"v":8.8},{"plane":"zx","freq":1920,"comp":"Eφ","i":6,"u":19.9,"v":2.2},{"plane":"zx","freq":1920,"comp":"Eφ","i":7,"u":16.9,"v":-1.2},{"plane":"zx","freq":1920,"comp":"Eφ","i":8,"u":15.8,"v":-6.1},{"plane":"zx","freq":1920,"comp":"Eφ","i":9,"u":16.1,"v":-13.6},{"plane":"zx","freq":1920,"comp":"Eφ","i":10,"u":13.1,"v":-21.1},{"plane":"zx","freq":1920,"comp":"Eφ","i":11,"u":7.5,"v":-25.7},{"plane":"zx","freq":1920,"comp":"Eφ","i":12,"u":-0.5,"v":-26.9},{"plane":"zx","freq":1920,"comp":"Eφ","i":13,"u":-8.8,"v":-25.2},{"plane":"zx","freq":1920,"comp":"Eφ","i":14,"u":-14.6,"v":-20.2},{"plane":"zx","freq":1920,"comp":"Eφ","i":15,"u":-17.1,"v":-12.8},{"plane":"zx","freq":1920,"comp":"Eφ","i":16,"u":-15.8,"v":-7.0},{"plane":"zx","freq":1920,"comp":"Eφ","i":17,"u":-12.1,"v":-2.5},{"plane":"zx","freq":1920,"comp":"Eφ","i":18,"u":-16.3,"v":1.3},{"plane":"zx","freq":1920,"comp":"Eφ","i":19,"u":-17.4,"v":7.1},{"plane":"zx","freq":1920,"comp":"Eφ","i":20,"u":-15.4,"v":12.4},{"plane":"zx","freq":1920,"comp":"Eφ","i":21,"u":-10.4,"v":15.4},{"plane":"zx","freq":1920,"comp":"Eφ","i":22,"u":-4.6,"v":15.8},{"plane":"zx","freq":1920,"comp":"Eφ","i":23,"u":-0.8,"v":12.4},{"plane":"zx","freq":1920,"comp":"Eφ","i":24,"u":-0.2,"v":6.3},

{"plane":"xy","freq":2045,"comp":"Eθ","i":0,"u":-29.5,"v":-2.8},{"plane":"xy","freq":2045,"comp":"Eθ","i":1,"u":-27.9,"v":8.7},{"plane":"xy","freq":2045,"comp":"Eθ","i":2,"u":-23.3,"v":18.2},{"plane":"xy","freq":2045,"comp":"Eθ","i":3,"u":-12.6,"v":23.8},{"plane":"xy","freq":2045,"comp":"Eθ","i":4,"u":-0.3,"v":25.1},{"plane":"xy","freq":2045,"comp":"Eθ","i":5,"u":5.4,"v":23.4},{"plane":"xy","freq":2045,"comp":"Eθ","i":6,"u":14.4,"v":21.8},{"plane":"xy","freq":2045,"comp":"Eθ","i":7,"u":22.6,"v":16.9},{"plane":"xy","freq":2045,"comp":"Eθ","i":8,"u":27.5,"v":8.7},{"plane":"xy","freq":2045,"comp":"Eθ","i":9,"u":28.9,"v":-1.1},{"plane":"xy","freq":2045,"comp":"Eθ","i":10,"u":26.7,"v":-12.6},{"plane":"xy","freq":2045,"comp":"Eθ","i":11,"u":20.2,"v":-22.5},{"plane":"xy","freq":2045,"comp":"Eθ","i":12,"u":9.5,"v":-28.2},{"plane":"xy","freq":2045,"comp":"Eθ","i":13,"u":-2.0,"v":-29.3},{"plane":"xy","freq":2045,"comp":"Eθ","i":14,"u":-13.4,"v":-27.4},{"plane":"xy","freq":2045,"comp":"Eθ","i":15,"u":-22.5,"v":-21.6},{"plane":"xy","freq":2045,"comp":"Eθ","i":16,"u":-28.2,"v":-12.6},

{"plane":"xy","freq":2045,"comp":"Eφ","i":0,"u":-2.8,"v":16.6},{"plane":"xy","freq":2045,"comp":"Eφ","i":1,"u":2.1,"v":17.9},{"plane":"xy","freq":2045,"comp":"Eφ","i":2,"u":5.9,"v":15.2},{"plane":"xy","freq":2045,"comp":"Eφ","i":3,"u":6.6,"v":8.7},{"plane":"xy","freq":2045,"comp":"Eφ","i":4,"u":12.0,"v":6.2},{"plane":"xy","freq":2045,"comp":"Eφ","i":5,"u":16.6,"v":2.1},{"plane":"xy","freq":2045,"comp":"Eφ","i":6,"u":18.0,"v":-3.6},{"plane":"xy","freq":2045,"comp":"Eφ","i":7,"u":16.1,"v":-8.5},{"plane":"xy","freq":2045,"comp":"Eφ","i":8,"u":12.0,"v":-11.8},{"plane":"xy","freq":2045,"comp":"Eφ","i":9,"u":8.7,"v":-15.9},{"plane":"xy","freq":2045,"comp":"Eφ","i":10,"u":3.8,"v":-16.7},{"plane":"xy","freq":2045,"comp":"Eφ","i":11,"u":-0.7,"v":-14.3},{"plane":"xy","freq":2045,"comp":"Eφ","i":12,"u":-2.8,"v":-10.2},{"plane":"xy","freq":2045,"comp":"Eφ","i":13,"u":-6.9,"v":-10.7},{"plane":"xy","freq":2045,"comp":"Eφ","i":14,"u":-9.8,"v":-9.0},{"plane":"xy","freq":2045,"comp":"Eφ","i":15,"u":-12.6,"v":-4.4},{"plane":"xy","freq":2045,"comp":"Eφ","i":16,"u":-15.9,"v":-1.1},{"plane":"xy","freq":2045,"comp":"Eφ","i":17,"u":-17.0,"v":4.6},{"plane":"xy","freq":2045,"comp":"Eφ","i":18,"u":-15.1,"v":9.5},{"plane":"xy","freq":2045,"comp":"Eφ","i":19,"u":-11.0,"v":11.6},{"plane":"xy","freq":2045,"comp":"Eφ","i":20,"u":-6.1,"v":12.8},

{"plane":"yz","freq":2045,"comp":"Eθ","i":0,"u":-25.0,"v":7.8},{"plane":"yz","freq":2045,"comp":"Eθ","i":1,"u":-22.7,"v":15.6},{"plane":"yz","freq":2045,"comp":"Eθ","i":2,"u":-18.1,"v":21.9},{"plane":"yz","freq":2045,"comp":"Eθ","i":3,"u":-9.8,"v":25.5},{"plane":"yz","freq":2045,"comp":"Eθ","i":4,"u":0.2,"v":26.9},{"plane":"yz","freq":2045,"comp":"Eθ","i":5,"u":10.1,"v":26.0},{"plane":"yz","freq":2045,"comp":"Eθ","i":6,"u":19.2,"v":23.5},{"plane":"yz","freq":2045,"comp":"Eθ","i":7,"u":26.7,"v":18.9},{"plane":"yz","freq":2045,"comp":"Eθ","i":8,"u":31.3,"v":12.8},{"plane":"yz","freq":2045,"comp":"Eθ","i":9,"u":31.7,"v":3.6},{"plane":"yz","freq":2045,"comp":"Eθ","i":10,"u":28.4,"v":-3.8},{"plane":"yz","freq":2045,"comp":"Eθ","i":11,"u":21.7,"v":-8.3},{"plane":"yz","freq":2045,"comp":"Eθ","i":12,"u":13.4,"v":-11.3},{"plane":"yz","freq":2045,"comp":"Eθ","i":13,"u":6.8,"v":-14.3},{"plane":"yz","freq":2045,"comp":"Eθ","i":14,"u":1.0,"v":-15.9},{"plane":"yz","freq":2045,"comp":"Eθ","i":15,"u":-2.8,"v":-19.2},{"plane":"yz","freq":2045,"comp":"Eθ","i":16,"u":-7.3,"v":-22.1},{"plane":"yz","freq":2045,"comp":"Eθ","i":17,"u":-13.1,"v":-21.6},{"plane":"yz","freq":2045,"comp":"Eθ","i":18,"u":-17.7,"v":-17.9},{"plane":"yz","freq":2045,"comp":"Eθ","i":19,"u":-18.7,"v":-12.1},{"plane":"yz","freq":2045,"comp":"Eθ","i":20,"u":-15.6,"v":-6.6},{"plane":"yz","freq":2045,"comp":"Eθ","i":21,"u":-10.6,"v":-3.5},{"plane":"yz","freq":2045,"comp":"Eθ","i":22,"u":-3.5,"v":-1.3},{"plane":"yz","freq":2045,"comp":"Eθ","i":23,"u":-10.6,"v":-1.8},{"plane":"yz","freq":2045,"comp":"Eθ","i":24,"u":-18.9,"v":-1.3},{"plane":"yz","freq":2045,"comp":"Eθ","i":25,"u":-23.9,"v":1.2},

{"plane":"yz","freq":2045,"comp":"Eφ","i":0,"u":-11.1,"v":5.3},{"plane":"yz","freq":2045,"comp":"Eφ","i":1,"u":-9.5,"v":9.0},{"plane":"yz","freq":2045,"comp":"Eφ","i":2,"u":-4.8,"v":10.3},{"plane":"yz","freq":2045,"comp":"Eφ","i":3,"u":0.2,"v":9.8},{"plane":"yz","freq":2045,"comp":"Eφ","i":4,"u":5.1,"v":9.0},{"plane":"yz","freq":2045,"comp":"Eφ","i":5,"u":9.8,"v":6.6},{"plane":"yz","freq":2045,"comp":"Eφ","i":6,"u":14.3,"v":6.1},{"plane":"yz","freq":2045,"comp":"Eφ","i":7,"u":15.9,"v":2.0},{"plane":"yz","freq":2045,"comp":"Eφ","i":8,"u":13.8,"v":-0.8},{"plane":"yz","freq":2045,"comp":"Eφ","i":9,"u":8.8,"v":-1.3},{"plane":"yz","freq":2045,"comp":"Eφ","i":10,"u":11.4,"v":-4.3},{"plane":"yz","freq":2045,"comp":"Eφ","i":11,"u":12.8,"v":-9.3},{"plane":"yz","freq":2045,"comp":"Eφ","i":12,"u":10.1,"v":-11.6},{"plane":"yz","freq":2045,"comp":"Eφ","i":13,"u":6.5,"v":-9.6},{"plane":"yz","freq":2045,"comp":"Eφ","i":14,"u":4.3,"v":-12.9},{"plane":"yz","freq":2045,"comp":"Eφ","i":15,"u":0.5,"v":-15.8},{"plane":"yz","freq":2045,"comp":"Eφ","i":16,"u":-4.0,"v":-14.9},{"plane":"yz","freq":2045,"comp":"Eφ","i":17,"u":-6.1,"v":-10.9},{"plane":"yz","freq":2045,"comp":"Eφ","i":18,"u":-6.8,"v":-6.0},{"plane":"yz","freq":2045,"comp":"Eφ","i":19,"u":-9.5,"v":-3.3},{"plane":"yz","freq":2045,"comp":"Eφ","i":20,"u":-10.9,"v":0.3},

{"plane":"zx","freq":2045,"comp":"Eθ","i":0,"u":0,"v":6.8},{"plane":"zx","freq":2045,"comp":"Eθ","i":1,"u":-1.7,"v":14.3},{"plane":"zx","freq":2045,"comp":"Eθ","i":2,"u":-6.1,"v":20.1},{"plane":"zx","freq":2045,"comp":"Eθ","i":3,"u":-13.6,"v":22.6},{"plane":"zx","freq":2045,"comp":"Eθ","i":4,"u":-21.9,"v":21.7},{"plane":"zx","freq":2045,"comp":"Eθ","i":5,"u":-28.2,"v":16.7},{"plane":"zx","freq":2045,"comp":"Eθ","i":6,"u":-30.5,"v":9.3},{"plane":"zx","freq":2045,"comp":"Eθ","i":7,"u":-28.2,"v":3.2},{"plane":"zx","freq":2045,"comp":"Eθ","i":8,"u":-22.7,"v":-0.7},{"plane":"zx","freq":2045,"comp":"Eθ","i":9,"u":-15.3,"v":-1.8},{"plane":"zx","freq":2045,"comp":"Eθ","i":10,"u":-7.8,"v":-0.2},{"plane":"zx","freq":2045,"comp":"Eθ","i":11,"u":-12.8,"v":-5.1},{"plane":"zx","freq":2045,"comp":"Eθ","i":12,"u":-13.9,"v":-9.8},{"plane":"zx","freq":2045,"comp":"Eθ","i":13,"u":-11.1,"v":-12.3},{"plane":"zx","freq":2045,"comp":"Eθ","i":14,"u":-6.1,"v":-11.8},{"plane":"zx","freq":2045,"comp":"Eθ","i":15,"u":-3.6,"v":-15.6},{"plane":"zx","freq":2045,"comp":"Eθ","i":16,"u":-0.7,"v":-18.9},{"plane":"zx","freq":2045,"comp":"Eθ","i":17,"u":3.3,"v":-18.9},{"plane":"zx","freq":2045,"comp":"Eθ","i":18,"u":5.0,"v":-14.8},{"plane":"zx","freq":2045,"comp":"Eθ","i":19,"u":10.0,"v":-12.8},{"plane":"zx","freq":2045,"comp":"Eθ","i":20,"u":14.3,"v":-10.1},{"plane":"zx","freq":2045,"comp":"Eθ","i":21,"u":21.2,"v":-9.0},{"plane":"zx","freq":2045,"comp":"Eθ","i":22,"u":27.0,"v":-5.6},{"plane":"zx","freq":2045,"comp":"Eθ","i":23,"u":30.0,"v":1.8},{"plane":"zx","freq":2045,"comp":"Eθ","i":24,"u":29.9,"v":11.8},{"plane":"zx","freq":2045,"comp":"Eθ","i":25,"u":27.0,"v":19.2},{"plane":"zx","freq":2045,"comp":"Eθ","i":26,"u":21.2,"v":23.4},{"plane":"zx","freq":2045,"comp":"Eθ","i":27,"u":14.3,"v":23.7},{"plane":"zx","freq":2045,"comp":"Eθ","i":28,"u":7.6,"v":21.4},{"plane":"zx","freq":2045,"comp":"Eθ","i":29,"u":3.3,"v":16.4},{"plane":"zx","freq":2045,"comp":"Eθ","i":30,"u":1.0,"v":10.4},

{"plane":"zx","freq":2045,"comp":"Eφ","i":0,"u":6.3,"v":3.2},{"plane":"zx","freq":2045,"comp":"Eφ","i":1,"u":12.1,"v":6.0},{"plane":"zx","freq":2045,"comp":"Eφ","i":2,"u":16.6,"v":9.8},{"plane":"zx","freq":2045,"comp":"Eφ","i":3,"u":18.4,"v":15.9},{"plane":"zx","freq":2045,"comp":"Eφ","i":4,"u":15.4,"v":23.4},{"plane":"zx","freq":2045,"comp":"Eφ","i":5,"u":8.3,"v":28.7},{"plane":"zx","freq":2045,"comp":"Eφ","i":6,"u":-2.0,"v":30.3},{"plane":"zx","freq":2045,"comp":"Eφ","i":7,"u":-14.4,"v":28.7},{"plane":"zx","freq":2045,"comp":"Eφ","i":8,"u":-21.1,"v":21.7},{"plane":"zx","freq":2045,"comp":"Eφ","i":9,"u":-20.6,"v":14.3},{"plane":"zx","freq":2045,"comp":"Eφ","i":10,"u":-14.4,"v":8.1},{"plane":"zx","freq":2045,"comp":"Eφ","i":11,"u":-5.6,"v":6.0},{"plane":"zx","freq":2045,"comp":"Eφ","i":12,"u":-0.7,"v":8.5},{"plane":"zx","freq":2045,"comp":"Eφ","i":13,"u":-2.0,"v":3.5},{"plane":"zx","freq":2045,"comp":"Eφ","i":14,"u":-8.6,"v":1.5},{"plane":"zx","freq":2045,"comp":"Eφ","i":15,"u":-16.9,"v":0.8},{"plane":"zx","freq":2045,"comp":"Eφ","i":16,"u":-22.7,"v":-1.8},{"plane":"zx","freq":2045,"comp":"Eφ","i":17,"u":-23.2,"v":-7.3},{"plane":"zx","freq":2045,"comp":"Eφ","i":18,"u":-18.9,"v":-13.9},{"plane":"zx","freq":2045,"comp":"Eφ","i":19,"u":-11.9,"v":-21.1},{"plane":"zx","freq":2045,"comp":"Eφ","i":20,"u":-3.6,"v":-25.5},{"plane":"zx","freq":2045,"comp":"Eφ","i":21,"u":5.0,"v":-24.7},{"plane":"zx","freq":2045,"comp":"Eφ","i":22,"u":12.6,"v":-18.4},{"plane":"zx","freq":2045,"comp":"Eφ","i":23,"u":15.9,"v":-10.6},{"plane":"zx","freq":2045,"comp":"Eφ","i":24,"u":18.7,"v":-4.0},{"plane":"zx","freq":2045,"comp":"Eφ","i":25,"u":15.9,"v":1.5},{"plane":"zx","freq":2045,"comp":"Eφ","i":26,"u":10.4,"v":3.2}
]},
"resolve":{"scale":{"x":"independent","y":"independent"}},
"spacing":0,
"hconcat":[
{
"transform":[{"filter":"datum.plane == 'xy'"}],
"facet":{"row":{"field":"freq","type":"ordinal","title":null,"header":{"labels":false}}},
"spacing":0,
"bounds":"flush",
"spec":{
"width":500,"height":206.35,
"layer":[
{"transform":[{"filter":"datum.kind == 'ring'"}],
 "mark":{"type":"arc","filled":false,"stroke":"black","strokeWidth":1.2,"theta":0,"theta2":6.2832},
 "encoding":{"x":{"datum":0,"type":"quantitative","scale":{"domain":[-171.53,75.99],"nice":false,"zero":false},"axis":null},
  "y":{"datum":0,"type":"quantitative","scale":{"domain":[-40.82,61.34],"nice":false,"zero":false},"axis":null},
  "radius":{"field":"dbi","type":"quantitative","stack":null,"scale":{"type":"linear","domain":[-30,10],"range":[0,80.8],"zero":false}},
  "radius2":{"datum":-30}}},
{"transform":[{"filter":"datum.comp == 'Eθ'"}],
 "mark":{"type":"line","interpolate":"cardinal-closed","strokeWidth":2},
 "encoding":{"x":{"field":"u","type":"quantitative","scale":{"domain":[-171.53,75.99],"nice":false,"zero":false},"axis":null},
  "y":{"field":"v","type":"quantitative","scale":{"domain":[-40.82,61.34],"nice":false,"zero":false},"axis":null},
  "order":{"field":"i","type":"quantitative"},
  "color":{"field":"comp","type":"nominal","scale":{"domain":["Eφ","Eθ"],"range":["#2B3596","#E61E28"]},
   "legend":{"orient":"none","legendX":14,"legendY":788,"title":null,"direction":"vertical","symbolType":"stroke","symbolSize":2209,"symbolStrokeWidth":2.2,"symbolOffset":12,"labelOffset":10,"labelExpr":"replace(datum.label, 'E', 'E\u2009')","labelFont":"Liberation Serif","labelFontStyle":"italic","labelFontSize":30,"labelColor":"black","clipHeight":40,"rowPadding":0,"padding":7,"strokeColor":"black","fillColor":"white","cornerRadius":0}}}},
{"transform":[{"filter":"datum.comp == 'Eφ'"}],
 "mark":{"type":"line","interpolate":"cardinal-closed","strokeWidth":2},
 "encoding":{"x":{"field":"u","type":"quantitative","scale":{"domain":[-171.53,75.99],"nice":false,"zero":false},"axis":null},
  "y":{"field":"v","type":"quantitative","scale":{"domain":[-40.82,61.34],"nice":false,"zero":false},"axis":null},
  "order":{"field":"i","type":"quantitative"},
  "color":{"field":"comp","type":"nominal","scale":{"domain":["Eφ","Eθ"],"range":["#2B3596","#E61E28"]}}}},
{"transform":[{"filter":"datum.kind == 'panel'"}],
 "mark":{"type":"text","align":"right","baseline":"alphabetic","font":"Liberation Serif","fontStyle":"italic","fontSize":27,"color":"black"},
 "encoding":{"x":{"datum":-19.8,"type":"quantitative","scale":{"domain":[-171.53,75.99],"nice":false,"zero":false},"axis":null},
  "y":{"datum":45,"type":"quantitative","scale":{"domain":[-40.82,61.34],"nice":false,"zero":false},"axis":null},
  "text":{"field":"sym"}}},
{"transform":[{"filter":"datum.kind == 'panel'"}],
 "mark":{"type":"text","align":"left","baseline":"alphabetic","font":"Liberation Serif","fontWeight":"bold","fontSize":21,"color":"black"},
 "encoding":{"x":{"datum":-19.3,"type":"quantitative","scale":{"domain":[-171.53,75.99],"nice":false,"zero":false},"axis":null},
  "y":{"datum":45,"type":"quantitative","scale":{"domain":[-40.82,61.34],"nice":false,"zero":false},"axis":null},
  "text":{"field":"head"}}},
{"transform":[{"filter":"datum.kind == 'panel'"}],
 "mark":{"type":"text","align":"right","baseline":"alphabetic","font":"Liberation Serif","fontSize":21,"color":"#333333"},
 "encoding":{"x":{"datum":-44.5,"type":"quantitative","scale":{"domain":[-171.53,75.99],"nice":false,"zero":false},"axis":null},
  "y":{"datum":-4.4,"type":"quantitative","scale":{"domain":[-40.82,61.34],"nice":false,"zero":false},"axis":null},
  "text":{"field":"west"}}},
{"transform":[{"filter":"datum.kind == 'panel'"}],
 "mark":{"type":"text","align":"left","baseline":"alphabetic","font":"Liberation Serif","fontSize":21,"color":"#333333"},
 "encoding":{"x":{"datum":46.3,"type":"quantitative","scale":{"domain":[-171.53,75.99],"nice":false,"zero":false},"axis":null},
  "y":{"datum":-4.4,"type":"quantitative","scale":{"domain":[-40.82,61.34],"nice":false,"zero":false},"axis":null},
  "text":{"field":"east"}}},
{"transform":[{"filter":"datum.kind == 'panel'"}],
 "mark":{"type":"text","align":"left","baseline":"alphabetic","font":"Liberation Serif","fontSize":21,"color":"#333333"},
 "encoding":{"x":{"datum":46.3,"type":"quantitative","scale":{"domain":[-171.53,75.99],"nice":false,"zero":false},"axis":null},
  "y":{"datum":-16.2,"type":"quantitative","scale":{"domain":[-40.82,61.34],"nice":false,"zero":false},"axis":null},
  "text":{"field":"axis"}}},
{"transform":[{"filter":"datum.kind == 'panel'"}],
 "mark":{"type":"text","align":"center","baseline":"alphabetic","font":"Liberation Serif","fontSize":19,"color":"#333333"},
 "encoding":{"x":{"datum":1.1,"type":"quantitative","scale":{"domain":[-171.53,75.99],"nice":false,"zero":false},"axis":null},
  "y":{"datum":-4.1,"type":"quantitative","scale":{"domain":[-40.82,61.34],"nice":false,"zero":false},"axis":null},
  "text":{"field":"g0"}}},
{"transform":[{"filter":"datum.kind == 'panel'"}],
 "mark":{"type":"text","align":"center","baseline":"alphabetic","font":"Liberation Serif","fontSize":19,"color":"#333333"},
 "encoding":{"x":{"datum":0.8,"type":"quantitative","scale":{"domain":[-171.53,75.99],"nice":false,"zero":false},"axis":null},
  "y":{"datum":-22.9,"type":"quantitative","scale":{"domain":[-40.82,61.34],"nice":false,"zero":false},"axis":null},
  "text":{"field":"g1"}}},
{"transform":[{"filter":"datum.kind == 'panel'"}],
 "mark":{"type":"text","align":"center","baseline":"alphabetic","font":"Liberation Serif","fontSize":19,"color":"#333333"},
 "encoding":{"x":{"datum":0.3,"type":"quantitative","scale":{"domain":[-171.53,75.99],"nice":false,"zero":false},"axis":null},
  "y":{"datum":-42.0,"type":"quantitative","scale":{"domain":[-40.82,61.34],"nice":false,"zero":false},"axis":null},
  "text":{"field":"g2"}}},
{"transform":[{"filter":"datum.kind == 'panel'"}],
 "mark":{"type":"text","align":"left","baseline":"alphabetic","font":"Liberation Serif","fontStyle":"italic","fontSize":33,"color":"black"},
 "encoding":{"x":{"datum":-167.6,"type":"quantitative","scale":{"domain":[-171.53,75.99],"nice":false,"zero":false},"axis":null},
  "y":{"datum":32.7,"type":"quantitative","scale":{"domain":[-40.82,61.34],"nice":false,"zero":false},"axis":null},
  "text":{"value":"f"}}},
{"transform":[{"filter":"datum.kind == 'panel'"}],
 "mark":{"type":"text","align":"left","baseline":"alphabetic","font":"Liberation Serif","fontSize":33,"color":"black"},
 "encoding":{"x":{"datum":-157.7,"type":"quantitative","scale":{"domain":[-171.53,75.99],"nice":false,"zero":false},"axis":null},
  "y":{"datum":32.7,"type":"quantitative","scale":{"domain":[-40.82,61.34],"nice":false,"zero":false},"axis":null},
  "text":{"field":"flab"}}},
{"transform":[{"filter":"datum.kind == 'caption'"}],
 "mark":{"type":"text","align":"right","baseline":"alphabetic","font":"Liberation Serif","fontStyle":"italic","fontSize":30,"color":"black"},
 "encoding":{"x":{"datum":-13.1,"type":"quantitative","scale":{"domain":[-171.53,75.99],"nice":false,"zero":false},"axis":null},
  "y":{"datum":-70.3,"type":"quantitative","scale":{"domain":[-40.82,61.34],"nice":false,"zero":false},"axis":null},
  "text":{"field":"a"}}},
{"transform":[{"filter":"datum.kind == 'caption'"}],
 "mark":{"type":"text","align":"left","baseline":"alphabetic","font":"Liberation Serif","fontSize":30,"color":"black"},
 "encoding":{"x":{"datum":-9.7,"type":"quantitative","scale":{"domain":[-171.53,75.99],"nice":false,"zero":false},"axis":null},
  "y":{"datum":-70.3,"type":"quantitative","scale":{"domain":[-40.82,61.34],"nice":false,"zero":false},"axis":null},
  "text":{"field":"b"}}}
]}
},
{
"transform":[{"filter":"datum.plane == 'yz'"}],
"facet":{"row":{"field":"freq","type":"ordinal","title":null,"header":{"labels":false}}},
"spacing":0,
"bounds":"flush",
"spec":{
"width":300,"height":206.35,
"layer":[
{"transform":[{"filter":"datum.kind == 'ring'"}],
 "mark":{"type":"arc","filled":false,"stroke":"black","strokeWidth":1.2,"theta":0,"theta2":6.2832},
 "encoding":{"x":{"datum":0,"type":"quantitative","scale":{"domain":[-74.9,73.61],"nice":false,"zero":false},"axis":null},
  "y":{"datum":0,"type":"quantitative","scale":{"domain":[-40.82,61.34],"nice":false,"zero":false},"axis":null},
  "radius":{"field":"dbi","type":"quantitative","stack":null,"scale":{"type":"linear","domain":[-30,10],"range":[0,80.8],"zero":false}},
  "radius2":{"datum":-30}}},
{"transform":[{"filter":"datum.comp == 'Eθ'"}],
 "mark":{"type":"line","interpolate":"cardinal-closed","strokeWidth":2},
 "encoding":{"x":{"field":"u","type":"quantitative","scale":{"domain":[-74.9,73.61],"nice":false,"zero":false},"axis":null},
  "y":{"field":"v","type":"quantitative","scale":{"domain":[-40.82,61.34],"nice":false,"zero":false},"axis":null},
  "order":{"field":"i","type":"quantitative"},
  "color":{"field":"comp","type":"nominal","scale":{"domain":["Eφ","Eθ"],"range":["#2B3596","#E61E28"]}}}},
{"transform":[{"filter":"datum.comp == 'Eφ'"}],
 "mark":{"type":"line","interpolate":"cardinal-closed","strokeWidth":2},
 "encoding":{"x":{"field":"u","type":"quantitative","scale":{"domain":[-74.9,73.61],"nice":false,"zero":false},"axis":null},
  "y":{"field":"v","type":"quantitative","scale":{"domain":[-40.82,61.34],"nice":false,"zero":false},"axis":null},
  "order":{"field":"i","type":"quantitative"},
  "color":{"field":"comp","type":"nominal","scale":{"domain":["Eφ","Eθ"],"range":["#2B3596","#E61E28"]}}}},
{"transform":[{"filter":"datum.kind == 'panel'"}],
 "mark":{"type":"text","align":"right","baseline":"alphabetic","font":"Liberation Serif","fontStyle":"italic","fontSize":27,"color":"black"},
 "encoding":{"x":{"datum":-20.8,"type":"quantitative","scale":{"domain":[-74.9,73.61],"nice":false,"zero":false},"axis":null},
  "y":{"datum":45,"type":"quantitative","scale":{"domain":[-40.82,61.34],"nice":false,"zero":false},"axis":null},
  "text":{"field":"sym"}}},
{"transform":[{"filter":"datum.kind == 'panel'"}],
 "mark":{"type":"text","align":"left","baseline":"alphabetic","font":"Liberation Serif","fontWeight":"bold","fontSize":21,"color":"black"},
 "encoding":{"x":{"datum":-20.3,"type":"quantitative","scale":{"domain":[-74.9,73.61],"nice":false,"zero":false},"axis":null},
  "y":{"datum":45,"type":"quantitative","scale":{"domain":[-40.82,61.34],"nice":false,"zero":false},"axis":null},
  "text":{"field":"head"}}},
{"transform":[{"filter":"datum.kind == 'panel'"}],
 "mark":{"type":"text","align":"right","baseline":"alphabetic","font":"Liberation Serif","fontSize":21,"color":"#222222"},
 "encoding":{"x":{"datum":-51.0,"type":"quantitative","scale":{"domain":[-74.9,73.61],"nice":false,"zero":false},"axis":null},
  "y":{"datum":-4.0,"type":"quantitative","scale":{"domain":[-40.82,61.34],"nice":false,"zero":false},"axis":null},
  "text":{"field":"west"}}},
{"transform":[{"filter":"datum.kind == 'panel'"}],
 "mark":{"type":"text","align":"left","baseline":"alphabetic","font":"Liberation Serif","fontSize":21,"color":"#222222"},
 "encoding":{"x":{"datum":41.4,"type":"quantitative","scale":{"domain":[-74.9,73.61],"nice":false,"zero":false},"axis":null},
  "y":{"datum":-4.0,"type":"quantitative","scale":{"domain":[-40.82,61.34],"nice":false,"zero":false},"axis":null},
  "text":{"field":"east"}}},
{"transform":[{"filter":"datum.kind == 'panel'"}],
 "mark":{"type":"text","align":"left","baseline":"alphabetic","font":"Liberation Serif","fontSize":21,"color":"#222222"},
 "encoding":{"x":{"datum":41.8,"type":"quantitative","scale":{"domain":[-74.9,73.61],"nice":false,"zero":false},"axis":null},
  "y":{"datum":-16.3,"type":"quantitative","scale":{"domain":[-40.82,61.34],"nice":false,"zero":false},"axis":null},
  "text":{"field":"axis"}}},
{"transform":[{"filter":"datum.kind == 'caption'"}],
 "mark":{"type":"text","align":"right","baseline":"alphabetic","font":"Liberation Serif","fontStyle":"italic","fontSize":30,"color":"black"},
 "encoding":{"x":{"datum":-19.5,"type":"quantitative","scale":{"domain":[-74.9,73.61],"nice":false,"zero":false},"axis":null},
  "y":{"datum":-70.3,"type":"quantitative","scale":{"domain":[-40.82,61.34],"nice":false,"zero":false},"axis":null},
  "text":{"field":"a"}}},
{"transform":[{"filter":"datum.kind == 'caption'"}],
 "mark":{"type":"text","align":"left","baseline":"alphabetic","font":"Liberation Serif","fontSize":30,"color":"black"},
 "encoding":{"x":{"datum":-15.5,"type":"quantitative","scale":{"domain":[-74.9,73.61],"nice":false,"zero":false},"axis":null},
  "y":{"datum":-70.3,"type":"quantitative","scale":{"domain":[-40.82,61.34],"nice":false,"zero":false},"axis":null},
  "text":{"field":"b"}}}
]}
},
{
"transform":[{"filter":"datum.plane == 'zx'"}],
"facet":{"row":{"field":"freq","type":"ordinal","title":null,"header":{"labels":false}}},
"spacing":0,
"bounds":"flush",
"spec":{
"width":274,"height":206.35,
"layer":[
{"transform":[{"filter":"datum.kind == 'ring'"}],
 "mark":{"type":"arc","filled":false,"stroke":"black","strokeWidth":1.2,"theta":0,"theta2":6.2832},
 "encoding":{"x":{"datum":0,"type":"quantitative","scale":{"domain":[-69.01,66.63],"nice":false,"zero":false},"axis":null},
  "y":{"datum":0,"type":"quantitative","scale":{"domain":[-40.82,61.34],"nice":false,"zero":false},"axis":null},
  "radius":{"field":"dbi","type":"quantitative","stack":null,"scale":{"type":"linear","domain":[-30,10],"range":[0,80.8],"zero":false}},
  "radius2":{"datum":-30}}},
{"transform":[{"filter":"datum.comp == 'Eθ'"}],
 "mark":{"type":"line","interpolate":"cardinal-closed","strokeWidth":2},
 "encoding":{"x":{"field":"u","type":"quantitative","scale":{"domain":[-69.01,66.63],"nice":false,"zero":false},"axis":null},
  "y":{"field":"v","type":"quantitative","scale":{"domain":[-40.82,61.34],"nice":false,"zero":false},"axis":null},
  "order":{"field":"i","type":"quantitative"},
  "color":{"field":"comp","type":"nominal","scale":{"domain":["Eφ","Eθ"],"range":["#2B3596","#E61E28"]}}}},
{"transform":[{"filter":"datum.comp == 'Eφ'"}],
 "mark":{"type":"line","interpolate":"cardinal-closed","strokeWidth":2},
 "encoding":{"x":{"field":"u","type":"quantitative","scale":{"domain":[-69.01,66.63],"nice":false,"zero":false},"axis":null},
  "y":{"field":"v","type":"quantitative","scale":{"domain":[-40.82,61.34],"nice":false,"zero":false},"axis":null},
  "order":{"field":"i","type":"quantitative"},
  "color":{"field":"comp","type":"nominal","scale":{"domain":["Eφ","Eθ"],"range":["#2B3596","#E61E28"]}}}},
{"transform":[{"filter":"datum.kind == 'panel'"}],
 "mark":{"type":"text","align":"right","baseline":"alphabetic","font":"Liberation Serif","fontStyle":"italic","fontSize":27,"color":"black"},
 "encoding":{"x":{"datum":-18.4,"type":"quantitative","scale":{"domain":[-69.01,66.63],"nice":false,"zero":false},"axis":null},
  "y":{"datum":45,"type":"quantitative","scale":{"domain":[-40.82,61.34],"nice":false,"zero":false},"axis":null},
  "text":{"field":"sym"}}},
{"transform":[{"filter":"datum.kind == 'panel'"}],
 "mark":{"type":"text","align":"left","baseline":"alphabetic","font":"Liberation Serif","fontWeight":"bold","fontSize":21,"color":"black"},
 "encoding":{"x":{"datum":-17.9,"type":"quantitative","scale":{"domain":[-69.01,66.63],"nice":false,"zero":false},"axis":null},
  "y":{"datum":45,"type":"quantitative","scale":{"domain":[-40.82,61.34],"nice":false,"zero":false},"axis":null},
  "text":{"field":"head"}}},
{"transform":[{"filter":"datum.kind == 'panel'"}],
 "mark":{"type":"text","align":"right","baseline":"alphabetic","font":"Liberation Serif","fontWeight":"bold","fontSize":21,"color":"black"},
 "encoding":{"x":{"datum":-48.2,"type":"quantitative","scale":{"domain":[-69.01,66.63],"nice":false,"zero":false},"axis":null},
  "y":{"datum":-4.0,"type":"quantitative","scale":{"domain":[-40.82,61.34],"nice":false,"zero":false},"axis":null},
  "text":{"field":"west"}}},
{"transform":[{"filter":"datum.kind == 'panel'"}],
 "mark":{"type":"text","align":"left","baseline":"alphabetic","font":"Liberation Serif","fontWeight":"bold","fontSize":21,"color":"black"},
 "encoding":{"x":{"datum":43.5,"type":"quantitative","scale":{"domain":[-69.01,66.63],"nice":false,"zero":false},"axis":null},
  "y":{"datum":-4.0,"type":"quantitative","scale":{"domain":[-40.82,61.34],"nice":false,"zero":false},"axis":null},
  "text":{"field":"east"}}},
{"transform":[{"filter":"datum.kind == 'panel'"}],
 "mark":{"type":"text","align":"left","baseline":"alphabetic","font":"Liberation Serif","fontWeight":"bold","fontSize":21,"color":"black"},
 "encoding":{"x":{"datum":44.0,"type":"quantitative","scale":{"domain":[-69.01,66.63],"nice":false,"zero":false},"axis":null},
  "y":{"datum":-16.3,"type":"quantitative","scale":{"domain":[-40.82,61.34],"nice":false,"zero":false},"axis":null},
  "text":{"field":"axis"}}},
{"transform":[{"filter":"datum.kind == 'caption'"}],
 "mark":{"type":"text","align":"right","baseline":"alphabetic","font":"Liberation Serif","fontStyle":"italic","fontSize":30,"color":"black"},
 "encoding":{"x":{"datum":-20.5,"type":"quantitative","scale":{"domain":[-69.01,66.63],"nice":false,"zero":false},"axis":null},
  "y":{"datum":-70.3,"type":"quantitative","scale":{"domain":[-40.82,61.34],"nice":false,"zero":false},"axis":null},
  "text":{"field":"a"}}},
{"transform":[{"filter":"datum.kind == 'caption'"}],
 "mark":{"type":"text","align":"left","baseline":"alphabetic","font":"Liberation Serif","fontSize":30,"color":"black"},
 "encoding":{"x":{"datum":-16.5,"type":"quantitative","scale":{"domain":[-69.01,66.63],"nice":false,"zero":false},"axis":null},
  "y":{"datum":-70.3,"type":"quantitative","scale":{"domain":[-40.82,61.34],"nice":false,"zero":false},"axis":null},
  "text":{"field":"b"}}}
]}
}
]
}
